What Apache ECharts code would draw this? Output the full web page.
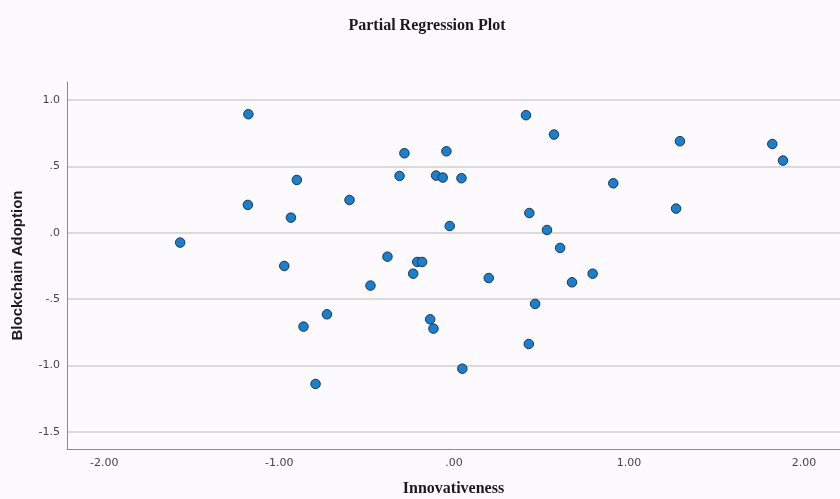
<!DOCTYPE html>
<html>
<head>
<meta charset="utf-8">
<script src="https://cdn.jsdelivr.net/npm/echarts@6/dist/echarts.min.js"></script>
<style>
  html, body { margin: 0; padding: 0; background: #fdfafd; }
  #chart { width: 840px; height: 499px; }
</style>
</head>
<body>
<div id="chart"></div>
<script>
// Partial regression residuals: Innovativeness (x) vs Blockchain Adoption (y)
const innovativeness = [
  -1.566, -1.176, -1.179, -0.899, -0.933, -0.971, -0.861, -0.792, -0.727, -0.598,
  -0.478, -0.381, -0.312, -0.284, -0.234, -0.211, -0.183, -0.137, -0.118, -0.103,
  -0.065, -0.044, -0.025, 0.042, 0.047, 0.198, 0.411, 0.430, 0.427, 0.463,
  0.531, 0.571, 0.606, 0.674, 0.792, 0.910, 1.269, 1.291, 1.819, 1.880
];
const blockchainAdoption = [
  -0.075, 0.892, 0.209, 0.397, 0.113, -0.251, -0.708, -1.140, -0.615, 0.246,
  -0.399, -0.181, 0.427, 0.598, -0.309, -0.221, -0.221, -0.653, -0.723, 0.430,
  0.415, 0.613, 0.050, 0.410, -1.025, -0.342, 0.885, 0.148, -0.839, -0.537,
  0.020, 0.739, -0.115, -0.374, -0.309, 0.372, 0.181, 0.689, 0.668, 0.543
];
const xTicks = [-2, -1, 0, 1, 2];
const yTicks = [-1.5, -1.0, -0.5, 0, 0.5, 1.0];

// SPSS-style labels: no leading zero (".00", "-.5")
function fmtX(v) {
  const s = Math.abs(v).toFixed(2).replace(/^0/, '');
  return (v < 0 ? '-' : '') + s;
}
function fmtY(v) {
  const s = Math.abs(v).toFixed(1).replace(/^0/, '');
  return (v < 0 ? '-' : '') + s;
}

const points = innovativeness.map((x, i) => [x, blockchainAdoption[i]]);

const chart = echarts.init(document.getElementById('chart'), null, { renderer: 'canvas' });
chart.setOption({
  backgroundColor: '#fdfafd',
  animation: false,
  title: {
    text: 'Partial Regression Plot',
    left: 422,
    textAlign: 'center',
    top: 13,
    textStyle: {
      fontFamily: 'Liberation Serif',
      fontWeight: 'bold',
      fontSize: 16,
      color: '#1a1a1a'
    }
  },
  grid: { left: 67, top: 82, right: 0, bottom: 50, containLabel: false, outerBoundsMode: 'none' },
  xAxis: {
    type: 'value',
    min: -2.213,
    max: 2.206,
    name: 'Innovativeness',
    nameLocation: 'middle',
    nameGap: 32,
    nameTextStyle: {
      fontFamily: 'Liberation Serif',
      fontWeight: 'bold',
      fontSize: 16,
      color: '#1a1a1a'
    },
    axisLine: { show: true, onZero: false, lineStyle: { color: '#8a8a8a', width: 1 } },
    axisTick: { show: false, customValues: xTicks },
    axisLabel: {
      customValues: xTicks,
      formatter: fmtX,
      margin: 9,
      fontFamily: 'DejaVu Sans',
      fontSize: 11,
      color: '#444'
    },
    splitLine: { show: false }
  },
  yAxis: {
    type: 'value',
    min: -1.63,
    max: 1.135,
    name: 'Blockchain Adoption',
    nameLocation: 'middle',
    nameGap: 42,
    nameRotate: 90,
    nameTextStyle: {
      fontFamily: 'Liberation Sans',
      fontWeight: 'bold',
      fontSize: 15,
      color: '#1a1a1a'
    },
    axisLine: { show: true, onZero: false, lineStyle: { color: '#8a8a8a', width: 1 } },
    axisTick: { show: false, customValues: yTicks },
    axisLabel: {
      customValues: yTicks,
      formatter: fmtY,
      margin: 7,
      fontFamily: 'DejaVu Sans',
      fontSize: 11,
      color: '#444'
    },
    splitLine: { show: true, lineStyle: { color: '#cfcfcf', width: 1.5 } }
  },
  series: [{
    type: 'scatter',
    data: points,
    symbol: 'circle',
    symbolSize: 9.5,
    itemStyle: {
      color: '#1c7fcc',
      borderColor: '#1c3550',
      borderWidth: 1,
      opacity: 1
    }
  }]
});
</script>
</body>
</html>
